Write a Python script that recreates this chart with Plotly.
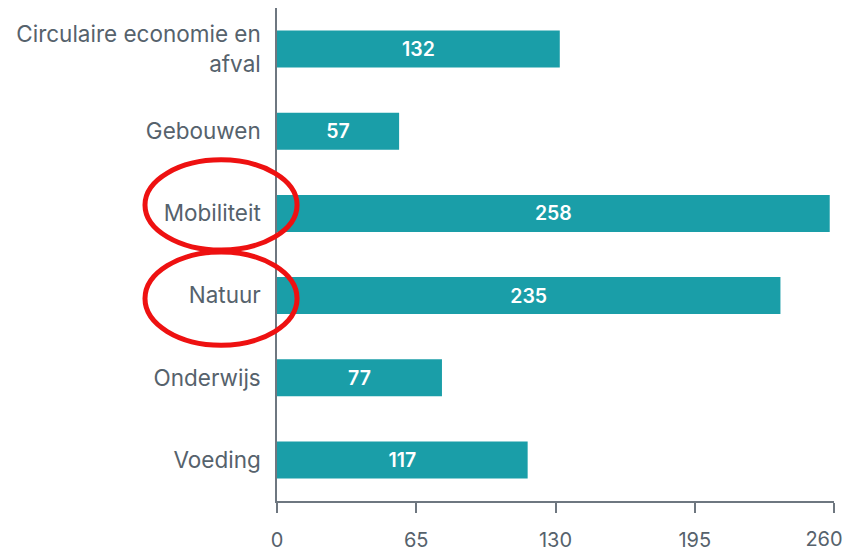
import plotly.graph_objects as go

categories = ["Circulaire economie en<br>afval", "Gebouwen", "Mobiliteit", "Natuur", "Onderwijs", "Voeding"]
values = [132, 57, 258, 235, 77, 117]
x_ticks = [0, 65, 130, 195, 260]
x_tick_text = ["0", "65", "130", "195", ""]
x_last_tick = [260]
x_last_text = ["260"]

bar_color = "#1a9ea8"
text_gray = "#56626c"
axis_gray = "#6e7780"
font_family = "Inter, Lato, sans-serif"

fig = go.Figure(go.Bar(
    x=values, y=categories, orientation="h",
    marker=dict(color=bar_color, line=dict(width=0)),
    text=[str(v) for v in values], textposition="inside", insidetextanchor="middle",
    textfont=dict(color="white", size=19.5, family=font_family, weight=600),
    cliponaxis=False,
))
# empty helper trace so the overlaid axis carrying the last tick label is drawn
fig.add_trace(go.Scatter(x=[], y=[], xaxis="x2", yaxis="y", mode="markers",
                         hoverinfo="skip", showlegend=False))

fig.update_layout(
    width=847, height=552,
    margin=dict(l=277, r=13, t=8, b=51, autoexpand=False),
    plot_bgcolor="white", paper_bgcolor="white",
    bargap=0.55, showlegend=False,
    font=dict(family=font_family, color=text_gray, size=19),
    xaxis2=dict(
        overlaying="x", side="bottom", anchor="y", range=[0, 260], autorange=False,
        tickvals=x_last_tick, ticktext=x_last_text, ticklabelshift=-10,
        ticklabeloverflow="allow",
        automargin=False, showgrid=False, zeroline=False, showline=False,
        ticks="outside", ticklen=10, tickcolor="rgba(0,0,0,0)",
        ticklabelstandoff=10, tickfont=dict(size=20, color=text_gray),
    ),
)
fig.update_layout(xaxis=dict(
    range=[0, 260], tickvals=x_ticks, ticktext=x_tick_text,
    automargin=False,
    showgrid=False, zeroline=False, showline=True, linecolor=axis_gray, linewidth=1.5,
    ticks="outside", ticklen=10, tickcolor=axis_gray, tickwidth=1.5,
    ticklabelstandoff=10, tickfont=dict(size=20, color=text_gray),
))
fig.update_yaxes(
    autorange=False, range=[5.5, -0.5], categoryorder="array", categoryarray=categories,
    automargin=False,
    showgrid=False, zeroline=False, showline=True, linecolor=axis_gray, linewidth=1.5,
    ticks="", ticklabelstandoff=10, tickfont=dict(size=22.5, color=text_gray),
)

ellipses = [(-0.237, 0.509, 0.036, 0.692), (-0.237, 0.316, 0.036, 0.505)]
for x0, y0, x1, y1 in ellipses:
    fig.add_shape(type="circle", xref="paper", yref="paper", x0=x0, y0=y0, x1=x1, y1=y1,
                  line=dict(color="#ee1111", width=5))

fig.write_html("out.html", config={"displayModeBar": False},
               post_script="document.body.style.margin='0';document.body.style.overflow='hidden';")
